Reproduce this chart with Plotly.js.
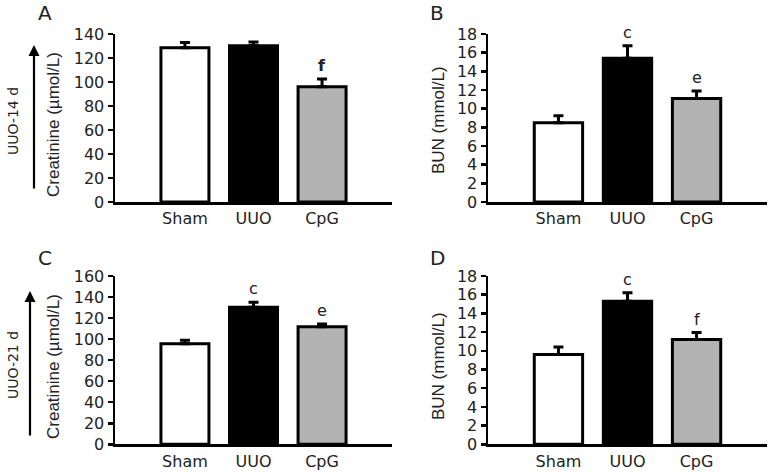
<!DOCTYPE html>
<html>
<head>
<meta charset="utf-8">
<script src="https://cdn.plot.ly/plotly-3.0.1.min.js"></script>
<style>html,body{margin:0;padding:0;background:#fff;}#chart{width:769px;height:473px;}</style>
</head>
<body>
<div id="chart"></div>
<script>
// ---- Data ----
const categories = ["Sham", "UUO", "CpG"];
const barColors = ["#ffffff", "#000000", "#b3b3b3"];

const creat14 = [128.5, 130.3, 96];
const creat14Err = [4.5, 3, 6.5];
const creat14Sig = ["", "", "f"];

const bun14 = [8.5, 15.4, 11.1];
const bun14Err = [0.75, 1.35, 0.8];
const bun14Sig = ["", "c", "e"];

const creat21 = [95.5, 130.2, 111.8];
const creat21Err = [3.5, 4.8, 2.6];
const creat21Sig = ["", "c", "e"];

const bun21 = [9.6, 15.3, 11.2];
const bun21Err = [0.8, 0.9, 0.75];
const bun21Sig = ["", "c", "f"];

const panels = [
  {vals: creat14, errs: creat14Err, sig: creat14Sig, ax: "", max: 140, dtick: 20, title: "Creatinine (µmol/L)", letter: "A", boldSig: true},
  {vals: bun14, errs: bun14Err, sig: bun14Sig, ax: "2", max: 18, dtick: 2, title: "BUN (mmol/L)", letter: "B"},
  {vals: creat21, errs: creat21Err, sig: creat21Sig, ax: "3", max: 160, dtick: 20, title: "Creatinine (µmol/L)", letter: "C"},
  {vals: bun21, errs: bun21Err, sig: bun21Sig, ax: "4", max: 18, dtick: 2, title: "BUN (mmol/L)", letter: "D"}
];

const W = 769, H = 473;
const FONT = "DejaVu Sans, sans-serif";
const TFONT = "Liberation Sans, Arial, sans-serif";
const TXT = "#222";
const px = v => v / W;
const py = v => 1 - v / H;

// geometry (pixels)
const xDomains = [[115, 392], [488, 767], [115, 392], [488, 767]];
const yDomains = [[34, 202], [34, 202], [276, 444.3], [276, 444.3]];
const titleX = [53, 438, 53, 438];
const titleY = [124, 120, 366, 366];
const letterPos = [[45, 13], [437, 13], [45, 258], [437, 258]];

const traces = [];
const layout = {
  width: W, height: H,
  margin: {l: 0, r: 0, t: 0, b: 0},
  paper_bgcolor: "#fff", plot_bgcolor: "#fff",
  showlegend: false,
  font: {family: FONT, color: TXT, size: 15},
  annotations: [],
  bargap: 0.3
};

panels.forEach((p, i) => {
  const xa = "x" + p.ax, ya = "y" + p.ax;
  traces.push({
    type: "bar",
    x: categories,
    y: p.vals,
    xaxis: xa, yaxis: ya,
    width: 0.7,
    marker: {color: barColors, line: {color: "#000", width: 3}},
    error_y: {type: "data", symmetric: false, array: p.errs, arrayminus: p.vals.map(() => 0),
              color: "#000", thickness: 3, width: 5},
    hoverinfo: "none"
  });
  const xk = "xaxis" + p.ax, yk = "yaxis" + p.ax;
  layout[xk] = {
    domain: [px(xDomains[i][0]), px(xDomains[i][1])],
    anchor: ya,
    range: [-1.02, 3.02],
    showline: true, linecolor: "#000", linewidth: 3,
    ticks: "", showgrid: false, zeroline: false,
    tickfont: {family: FONT, size: 16, color: TXT},
    fixedrange: true
  };
  layout[yk] = {
    domain: [py(yDomains[i][1]), py(yDomains[i][0])],
    anchor: xa,
    range: [0, p.max],
    dtick: p.dtick, tick0: 0,
    showline: true, linecolor: "#000", linewidth: 2.5,
    ticks: "outside", ticklen: 5, tickwidth: 2.5, tickcolor: "#000",
    showgrid: false, zeroline: false,
    tickfont: {family: FONT, size: 16, color: TXT},
    fixedrange: true
  };
  // axis title
  layout.annotations.push({
    xref: "paper", yref: "paper", x: px(titleX[i]), y: py(titleY[i]),
    text: p.title, textangle: -90, showarrow: false,
    xanchor: "center", yanchor: "middle",
    font: {family: TFONT, size: 17, color: TXT}
  });
  // panel letter
  layout.annotations.push({
    xref: "paper", yref: "paper", x: px(letterPos[i][0]), y: py(letterPos[i][1]),
    text: p.letter, showarrow: false, xanchor: "center", yanchor: "middle",
    font: {family: FONT, size: 20, color: TXT}
  });
  // significance letters
  p.sig.forEach((s, j) => {
    if (!s) return;
    layout.annotations.push({
      xref: xa, yref: ya, x: categories[j], y: p.vals[j] + p.errs[j],
      text: p.boldSig ? "<b>" + s + "</b>" : s, showarrow: false,
      xanchor: "center", yanchor: "bottom", yshift: 2,
      font: {family: FONT, size: 16, color: TXT}
    });
  });
});

// Left side time labels and arrows
const sideLabels = [{text: "UUO-14 d", x: 13, y: 121, ax: 34, top: 45, bot: 190},
                    {text: "UUO-21 d", x: 13, y: 365, ax: 30, top: 291, bot: 437}];
sideLabels.forEach(s => {
  layout.annotations.push({
    xref: "paper", yref: "paper", x: px(s.x), y: py(s.y),
    text: s.text, textangle: -90, showarrow: false,
    xanchor: "center", yanchor: "middle",
    font: {family: FONT, size: 14, color: TXT}
  });
  layout.annotations.push({
    xref: "paper", yref: "paper", x: px(s.ax), y: py(s.top),
    axref: "pixel", ayref: "pixel", ax: 0, ay: s.bot - s.top,
    text: "", showarrow: true, arrowhead: 2, arrowsize: 1, arrowwidth: 2.2, arrowcolor: "#000"
  });
});

Plotly.newPlot("chart", traces, layout, {displayModeBar: false, staticPlot: true});
</script>
</body>
</html>
